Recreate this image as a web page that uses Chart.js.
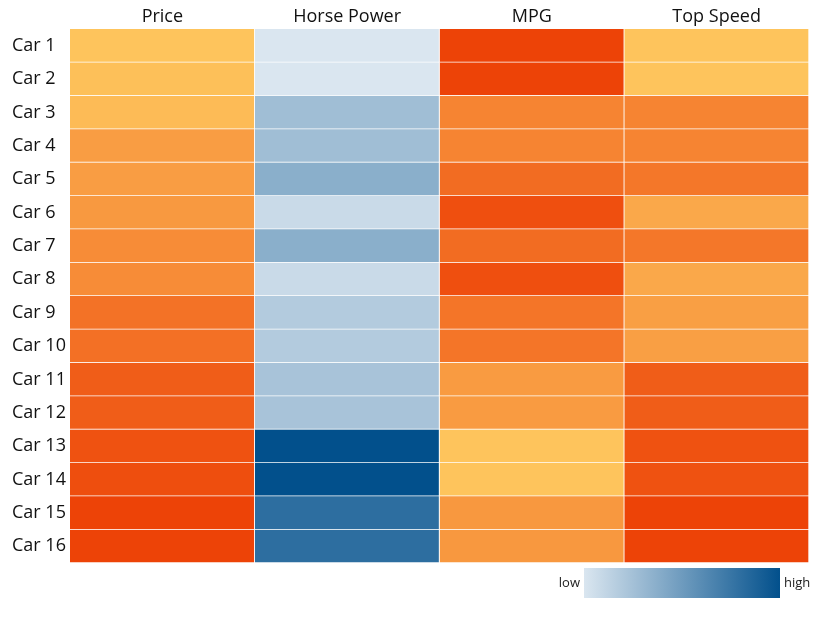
<!DOCTYPE html>
<html>
<head>
<meta charset="utf-8">
<script src="https://cdn.jsdelivr.net/npm/chart.js@4/dist/chart.umd.min.js"></script>
<style>
  body { margin: 0; background: #fff; }
</style>
</head>
<body>
<canvas id="heat" width="829" height="623"></canvas>
<script>
var cars = ["Car 1", "Car 2", "Car 3", "Car 4", "Car 5", "Car 6", "Car 7", "Car 8",
            "Car 9", "Car 10", "Car 11", "Car 12", "Car 13", "Car 14", "Car 15", "Car 16"];
var columns = ["Price", "Horse Power", "MPG", "Top Speed"];

var price = [18, 19, 20, 27, 27, 28, 31, 31, 37, 37.5, 42, 42, 44.5, 45.5, 48, 48];
var horsePower = [110, 110, 188, 188, 217, 133, 217, 133, 162, 162, 177, 177, 400, 400, 342, 342];
var mpg = [34, 34, 23, 23, 27, 32, 27, 32, 25.5, 25.5, 19, 19, 12, 12, 19.5, 19.5];
var topSpeed = [110, 110, 140, 140, 146, 123, 146, 123, 127, 127, 158, 158, 163, 163, 170, 170];

var orangeLow = [254, 196, 92], orangeHigh = [237, 67, 7];
var blueLow = [218, 230, 240], blueHigh = [2, 80, 140];

function mix(a, b, t) {
  return "rgb(" + a.map(function (v, i) { return Math.round(v + (b[i] - v) * t); }).join(",") + ")";
}

function colorsFor(values, low, high) {
  var mn = Math.min.apply(null, values), mx = Math.max.apply(null, values);
  return values.map(function (v) { return mix(low, high, (v - mn) / (mx - mn)); });
}

var series = [price, horsePower, mpg, topSpeed];
var ramps = [[orangeLow, orangeHigh], [blueLow, blueHigh], [orangeLow, orangeHigh], [orangeLow, orangeHigh]];

var datasets = series.map(function (vals, c) {
  return {
    label: columns[c],
    data: vals.map(function () { return [c, c + 1]; }),
    raw: vals,
    backgroundColor: colorsFor(vals, ramps[c][0], ramps[c][1]),
    borderColor: "#ffffff",
    borderWidth: { top: 0, left: 0, right: 1, bottom: 1 },
    borderSkipped: false,
    barPercentage: 1,
    categoryPercentage: 1,
    grouped: false
  };
});

var legendBar = {
  id: "legendBar",
  afterDraw: function (chart) {
    var ctx = chart.ctx;
    var x0 = 584, x1 = 780, y0 = 568, y1 = 598;
    var g = ctx.createLinearGradient(x0, 0, x1, 0);
    g.addColorStop(0, mix(blueLow, blueHigh, 0));
    g.addColorStop(1, mix(blueLow, blueHigh, 1));
    ctx.save();
    ctx.fillStyle = g;
    ctx.fillRect(x0, y0, x1 - x0, y1 - y0);
    ctx.fillStyle = "#222";
    ctx.font = "13px 'Open Sans'";
    ctx.textBaseline = "middle";
    ctx.textAlign = "right";
    ctx.fillText("low", x0 - 4, (y0 + y1) / 2);
    ctx.textAlign = "left";
    ctx.fillText("high", x1 + 4, (y0 + y1) / 2);
    ctx.restore();
  }
};

new Chart(document.getElementById("heat"), {
  type: "bar",
  data: { labels: cars, datasets: datasets },
  plugins: [legendBar],
  options: {
    responsive: false,
    animation: false,
    indexAxis: "y",
    layout: { padding: { top: 0, right: 20, bottom: 60, left: 12 } },
    plugins: {
      legend: { display: false },
      tooltip: {
        callbacks: {
          label: function (item) {
            return item.dataset.label + ": " + item.dataset.raw[item.dataIndex];
          }
        }
      }
    },
    scales: {
      x: {
        type: "linear",
        position: "top",
        min: 0,
        max: 4,
        grid: { display: false, drawTicks: false },
        border: { display: false },
        afterBuildTicks: function (axis) {
          axis.ticks = [0.5, 1.5, 2.5, 3.5].map(function (v) { return { value: v }; });
        },
        afterFit: function (axis) { axis.height = 29; },
        ticks: {
          color: "#111",
          font: { family: "'Open Sans'", size: 18 },
          padding: 1,
          maxRotation: 0,
          callback: function (v, i) { return columns[i]; }
        }
      },
      y: {
        type: "category",
        grid: { display: false, drawTicks: false },
        border: { display: false },
        afterFit: function (axis) { axis.width = 58; },
        ticks: {
          color: "#111",
          crossAlign: "far",
          font: { family: "'Open Sans'", size: 18 },
          padding: 0
        }
      }
    }
  }
});
</script>
</body>
</html>
